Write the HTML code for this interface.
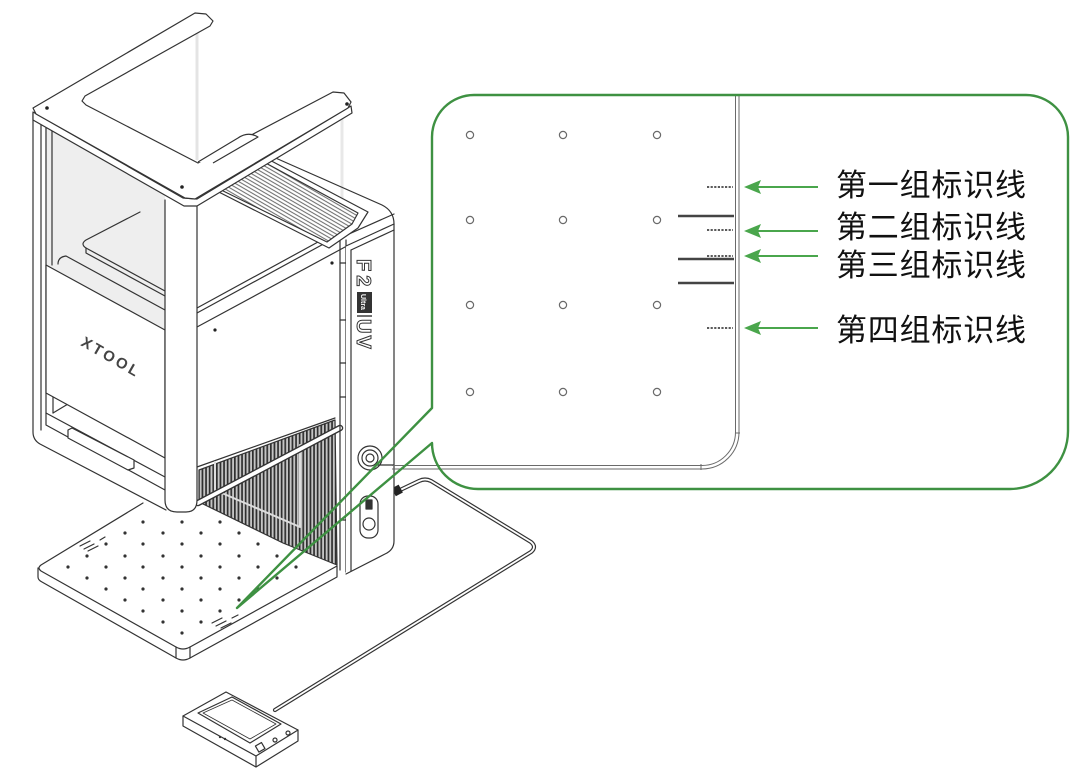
<!DOCTYPE html>
<html><head><meta charset="utf-8"><style>
html,body{margin:0;padding:0;background:#fff;}
svg{display:block;}
</style></head><body>
<svg xmlns="http://www.w3.org/2000/svg" width="1085" height="780" viewBox="0 0 1085 780">
<defs>
<pattern id="vs" width="3.6" height="10" patternUnits="userSpaceOnUse">
<rect width="3.6" height="10" fill="#c4c4c4"/><rect width="1.7" height="10" fill="#2f2f2f"/>
</pattern>
<pattern id="hz" width="6" height="3.3" patternUnits="userSpaceOnUse" patternTransform="rotate(30)">
<rect width="6" height="3.3" fill="#fff"/><line x1="0" y1="1.6" x2="6" y2="1.6" stroke="#555" stroke-width="0.9"/>
</pattern>
</defs>

<!-- ============ BASE PLATE ============ -->
<polygon points="38,567 143,503 199,502 283,543 337,566 183,650" fill="#fff"/>
<g fill="none" stroke="#333" stroke-width="1.2" stroke-linejoin="round" stroke-linecap="round">
<path d="M143,503 L41,565 Q37,568 41,571 L176,647 Q183,651 190,647 L337,566"/>
<path d="M38,568 L38,577 Q38,580 42,582 L176,658 Q183,662 190,658 L337,577 L337,566"/>
<path d="M176,647 L176,658 M190,647 L190,658"/>
<path d="M80,546 l10,-5 M84,549 l10,-5 M88,551 l10,-5 M100,540 l5,-3"/>
<path d="M212,623 l10,-5 M216,626 l10,-5 M221,628 l10,-5 M232,618 l6,-3"/>
</g>
<g fill="#333">
<circle cx="143" cy="522" r="1.6"/><circle cx="182" cy="522" r="1.6"/><circle cx="220" cy="522" r="1.6"/>
<circle cx="125" cy="533" r="1.6"/><circle cx="163" cy="533" r="1.6"/><circle cx="201" cy="533" r="1.6"/><circle cx="239" cy="533" r="1.6"/>
<circle cx="106" cy="544" r="1.6"/><circle cx="143" cy="544" r="1.6"/><circle cx="182" cy="544" r="1.6"/><circle cx="220" cy="544" r="1.6"/><circle cx="258" cy="544" r="1.6"/>
<circle cx="87" cy="556" r="1.6"/><circle cx="125" cy="556" r="1.6"/><circle cx="163" cy="556" r="1.6"/><circle cx="201" cy="556" r="1.6"/><circle cx="239" cy="556" r="1.6"/><circle cx="277" cy="556" r="1.6"/>
<circle cx="68" cy="567" r="1.6"/><circle cx="106" cy="567" r="1.6"/><circle cx="143" cy="567" r="1.6"/><circle cx="182" cy="567" r="1.6"/><circle cx="220" cy="567" r="1.6"/><circle cx="258" cy="567" r="1.6"/><circle cx="296" cy="567" r="1.6"/>
<circle cx="87" cy="578" r="1.6"/><circle cx="125" cy="578" r="1.6"/><circle cx="163" cy="578" r="1.6"/><circle cx="201" cy="578" r="1.6"/><circle cx="239" cy="578" r="1.6"/><circle cx="277" cy="578" r="1.6"/>
<circle cx="106" cy="589" r="1.6"/><circle cx="143" cy="589" r="1.6"/><circle cx="182" cy="589" r="1.6"/><circle cx="220" cy="589" r="1.6"/><circle cx="258" cy="589" r="1.6"/>
<circle cx="125" cy="600" r="1.6"/><circle cx="163" cy="600" r="1.6"/><circle cx="201" cy="600" r="1.6"/><circle cx="239" cy="600" r="1.6"/>
<circle cx="143" cy="611" r="1.6"/><circle cx="182" cy="611" r="1.6"/><circle cx="220" cy="611" r="1.6"/>
<circle cx="163" cy="622" r="1.6"/><circle cx="201" cy="622" r="1.6"/>
<circle cx="182" cy="633" r="1.6"/>
</g>

<!-- ============ CABLE & CONTROLLER ============ -->
<g fill="none" stroke-linejoin="round" stroke-linecap="round">
<path d="M398,491 L419,481 Q425,478 431,481 L531,542 Q537,547 531,552 L275,710" stroke="#333" stroke-width="4.2"/>
<path d="M398,491 L419,481 Q425,478 431,481 L531,542 Q537,547 531,552 L275,710" stroke="#fff" stroke-width="1.8"/>
</g>
<rect x="393" y="486" width="8" height="9" fill="#222" transform="rotate(-28 397 490)"/>
<g stroke="#333" stroke-width="1.2" stroke-linejoin="round" fill="#fff">
<path d="M183,716 L183,726 L256,767 L298,741 L298,730 Z"/>
<path d="M183,716 L226,692 L298,730 L256,756 Z"/>
<path d="M198,713 L232,697 L281,724 L250,743 Z" fill="none"/>
<path d="M203,713 L232,700 L276,724 L250,739 Z" fill="none" stroke-width="0.8"/>
<path d="M256,756 L256,767" fill="none"/>
<rect x="257" y="744" width="7" height="7" transform="rotate(-30 260 748)" fill="none"/>
<circle cx="275" cy="740" r="2" fill="none"/>
<circle cx="288" cy="733" r="2" fill="none"/>
</g>
<circle cx="220" cy="737" r="1.2" fill="#333"/><circle cx="225" cy="739" r="1.2" fill="#333"/>

<!-- ============ MACHINE ============ -->
<!-- glass -->
<polygon points="45,126 165,195 165,330 46,265" fill="#eeeeee"/>
<line x1="197" y1="18" x2="197" y2="160" stroke="#e4e4e4" stroke-width="3"/>
<line x1="342" y1="105" x2="342" y2="230" stroke="#e8e8e8" stroke-width="3"/>

<g fill="none" stroke="#333" stroke-width="1.2" stroke-linejoin="round" stroke-linecap="round">
<!-- left post -->
<path d="M33,113 L33,432 Q33,440 40,444 L166,510"/>
<path d="M41,120 L41,430"/>
<path d="M46,124 L46,425 L165,490"/>
<path d="M52,128 L52,265"/>
<path d="M53,395 L53,413"/>
<path d="M46,413 L165,477"/>
<path d="M68,430 L72,428 L134,460 L134,468 L128,470 L68,438 Z" fill="#fff"/>
<path d="M53,413 L73,401"/>
<!-- xtool panel -->
<polygon points="46,265 165,330 165,458 46,393" fill="#fff"/>
<path d="M58,264 Q58,257 66,256 L165,310"/>
<!-- lid -->
<path d="M140,212 L86,240 Q80,244 86,248 L165,291"/>
<path d="M86,248 L86,253 L165,296"/>

<!-- right face -->
<polygon points="197,327 345,247 345,418 197,467" fill="#fff" stroke="none"/>
<path d="M197,308 L340,230 M197,313 L340,235"/>
<path d="M197,327 L345,247"/>
<path d="M197,467 L335,418"/>
<!-- grille -->
<polygon points="199,470 335,420 337,565 283,543 199,502" fill="url(#vs)" stroke="#333"/>
<path d="M215,462 L215,490 L300,527 L300,445" stroke="#ddd" stroke-width="2"/>
<path d="M198,503 L340,428" stroke="#333" stroke-width="6.5"/>
<path d="M198,503 L340,428" stroke="#fff" stroke-width="3.8"/>
<path d="M340,236 L340,570 M346,240 L346,572"/>
<path d="M340,263 h6 M340,320 h6 M340,363 h6 M340,397 h6 M340,520 h6"/>

<!-- front post -->
<path d="M165,200 L165,500 Q165,512 177,512 L186,512 Q197,512 197,500 L197,205" fill="#fff"/>

<!-- right body -->
<path d="M346,246 L394,224 L394,541 Q394,550 385,554 L346,574 Z" fill="#fff" stroke="none"/>
<path d="M262,152 L382,205 Q394,211 394,224 L394,541 Q394,550 385,554 L346,574"/>
<path d="M340,238 L394,214"/>
<path d="M346,246 L394,224 M351,250 L394,230"/>
<path d="M351,250 L351,571"/>
<!-- top grille -->
<polygon points="207,186 262,156 368,212 358,228 329,248" fill="#fff"/>
<polygon points="213,186 262,161 358,213 352,224 327,242" fill="url(#hz)"/>
<!-- controls -->
<circle cx="370" cy="458" r="12" fill="#fff"/>
<circle cx="370" cy="458" r="8"/>
<circle cx="370" cy="458" r="4"/>
<rect x="360" y="496" width="18" height="42" rx="8" fill="#fff"/>
<rect x="366" y="500" width="6" height="9" fill="#333"/>
<circle cx="369" cy="524" r="6"/>
<path d="M377,465 L394,465"/>
</g>
<!-- F2 Ultra UV -->
<g font-family="Liberation Sans, sans-serif" font-weight="bold">
<text transform="translate(357,259) rotate(90)" font-size="20" fill="#fff" stroke="#333" stroke-width="1" letter-spacing="4">F2</text>
<rect x="357" y="292" width="15" height="21" fill="#333"/>
<text transform="translate(361,294) rotate(90)" font-size="7" fill="#fff">Ultra</text>
<line x1="357" y1="316" x2="372" y2="316" stroke="#333" stroke-width="1.4"/>
<text transform="translate(357,319) rotate(90)" font-size="20" fill="#fff" stroke="#333" stroke-width="1" letter-spacing="2">UV</text>
</g>
<text transform="translate(80,345) rotate(30)" font-family="Liberation Sans, sans-serif" font-weight="bold" font-size="15" letter-spacing="3" fill="#444">XTOOL</text>

<!-- top frame -->
<g stroke="#333" stroke-width="1.2" stroke-linejoin="round" fill="#fff">
<polygon points="33,112 183,198 197,199 351,106 352,113 197,206 184,206 33,120"/>
<polygon points="33,108 195,13 206,14 213,21 210,26 85,96 82,101 86,105 198,163 333,92 344,93 351,102 348,108 205,193 195,199 185,198 36,114"/>
<path d="M198,162 L238,138 Q248,131 258,137 L213,163"/>
</g>
<g fill="#222">
<circle cx="47" cy="108" r="1.8"/><circle cx="182" cy="187" r="1.8"/><circle cx="347" cy="104" r="1.8"/>
<circle cx="215" cy="330" r="1.6"/><circle cx="332" cy="263" r="1.6"/>
</g>

<!-- ============ CALLOUT ============ -->
<path d="M432,137 A42,42 0 0 1 474,95 L1026,95 A42,42 0 0 1 1068,137 L1068,431 A58,58 0 0 1 1010,489 L478,489 A46,46 0 0 1 432,443 Z" fill="#fff"/>
<!-- plate inside -->
<g fill="none" stroke="#6a6a6a" stroke-width="1">
<path d="M739,96 L739,432 A37,37 0 0 1 702,469 L392,469"/>
<path d="M735.5,96 L735.5,432 A33.5,33.5 0 0 1 702,465.5 L392,465.5"/>
<path d="M735,433 h5 M701,464 v6"/>
</g>
<g fill="none" stroke="#6a6a6a" stroke-width="1.2">
<circle cx="470" cy="135" r="3.6"/><circle cx="563" cy="135" r="3.6"/><circle cx="657" cy="135" r="3.6"/>
<circle cx="470" cy="220" r="3.6"/><circle cx="563" cy="220" r="3.6"/><circle cx="657" cy="220" r="3.6"/>
<circle cx="470" cy="305" r="3.6"/><circle cx="563" cy="305" r="3.6"/><circle cx="657" cy="305" r="3.6"/>
<circle cx="470" cy="392" r="3.6"/><circle cx="563" cy="392" r="3.6"/><circle cx="657" cy="392" r="3.6"/>
</g>
<g stroke="#444" stroke-width="2.4">
<line x1="678" y1="216" x2="734" y2="216"/>
<line x1="678" y1="259" x2="734" y2="259"/>
<line x1="678" y1="283" x2="734" y2="283"/>
</g>
<g stroke="#444" stroke-width="1.8" stroke-dasharray="2.2,1.4">
<line x1="707" y1="187" x2="733" y2="187"/>
<line x1="707" y1="230" x2="733" y2="230"/>
<line x1="707" y1="256" x2="733" y2="256"/>
<line x1="707" y1="328" x2="733" y2="328"/>
</g>
<!-- green outline with pointer -->
<path d="M432,408 L432,137 A42,42 0 0 1 474,95 L1026,95 A42,42 0 0 1 1068,137 L1068,431 A58,58 0 0 1 1010,489 L478,489 A46,46 0 0 1 432,443 L237,608 Z" fill="none" stroke="#3e9142" stroke-width="2.4" stroke-linejoin="round"/>
<!-- arrows -->
<g stroke="#4aa64c" stroke-width="2" fill="#4aa64c">
<line x1="818" y1="187" x2="755" y2="187"/><path d="M744,187 L761,180 L758,187 L761,194 Z" stroke="none"/>
<line x1="818" y1="231" x2="755" y2="231"/><path d="M744,231 L761,224 L758,231 L761,238 Z" stroke="none"/>
<line x1="818" y1="256" x2="755" y2="256"/><path d="M744,256 L761,249 L758,256 L761,263 Z" stroke="none"/>
<line x1="818" y1="328" x2="755" y2="328"/><path d="M744,328 L761,321 L758,328 L761,335 Z" stroke="none"/>
</g>
<g font-family="Liberation Sans, 'Noto Sans CJK SC', sans-serif" font-size="31" fill="#111" letter-spacing="0.8">
<text x="836" y="196">第一组标识线</text>
<text x="836" y="238">第二组标识线</text>
<text x="836" y="276">第三组标识线</text>
<text x="836" y="341">第四组标识线</text>
</g>
</svg>
</body></html>
